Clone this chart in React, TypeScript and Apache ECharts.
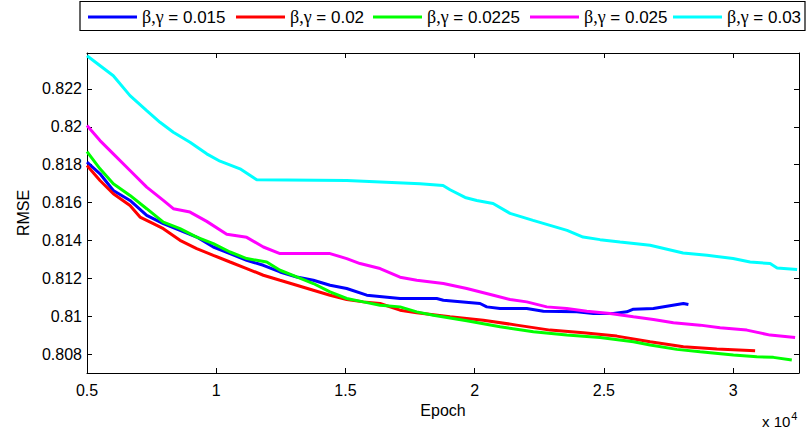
import React, { useEffect, useRef } from "react";
import * as echarts from "echarts";

const seriesNames = ["β,γ = 0.015", "β,γ = 0.02", "β,γ = 0.0225", "β,γ = 0.025", "β,γ = 0.03"];
const seriesColors = ["#0000ff", "#ff0000", "#00ff00", "#ff00ff", "#00ffff"];

const epochs015 = [5000, 5503, 6018, 6664, 7310, 7953, 8599, 9245, 9888, 10534, 11180, 11823, 12469, 13115, 13758, 14404, 15050, 15824, 17113, 18533, 18789, 20209, 20468, 20983, 22016, 22659, 23951, 24594, 25368, 25887, 26142, 26916, 27435, 28077, 28271];
const rmse015 = [0.818132, 0.817521, 0.816641, 0.816114, 0.815324, 0.814887, 0.814534, 0.81418, 0.813654, 0.813306, 0.812953, 0.812689, 0.812336, 0.812073, 0.811899, 0.811636, 0.811462, 0.811109, 0.810935, 0.810935, 0.810845, 0.810671, 0.810492, 0.810408, 0.810408, 0.810266, 0.810229, 0.810144, 0.810144, 0.810229, 0.810371, 0.810408, 0.810529, 0.810671, 0.810619];

const epochs02 = [5000, 5503, 6018, 6664, 7051, 7566, 7953, 8599, 9245, 9888, 10534, 11180, 11823, 12469, 13115, 13758, 14404, 15050, 15693, 16339, 17113, 17759, 19048, 20336, 21625, 22918, 24208, 25498, 26788, 28077, 29367, 30852];
const rmse02 = [0.817958, 0.817168, 0.816467, 0.815851, 0.815234, 0.814887, 0.814623, 0.814007, 0.813569, 0.813216, 0.812863, 0.812516, 0.812163, 0.811899, 0.811636, 0.811372, 0.811109, 0.810882, 0.810756, 0.810671, 0.810318, 0.810176, 0.809965, 0.809791, 0.809528, 0.809265, 0.809122, 0.808948, 0.808648, 0.808385, 0.808263, 0.808174];

const epochs0225 = [5000, 5503, 6018, 6664, 7310, 7953, 8599, 9245, 9888, 10534, 11180, 11954, 12469, 13115, 13758, 14404, 15050, 15693, 16339, 17113, 17759, 18402, 19694, 20983, 22272, 23564, 24853, 26142, 26788, 27821, 28723, 30012, 30917, 31559, 32271];
const rmse0225 = [0.818696, 0.817785, 0.816994, 0.816378, 0.815677, 0.814971, 0.814623, 0.81418, 0.813833, 0.81339, 0.813042, 0.812863, 0.812426, 0.812073, 0.811725, 0.811283, 0.810935, 0.810756, 0.810582, 0.810492, 0.810229, 0.810055, 0.809755, 0.809438, 0.809175, 0.809001, 0.80888, 0.808648, 0.808474, 0.808248, 0.808121, 0.807947, 0.807858, 0.807826, 0.807684];

const epochs025 = [5000, 5503, 6018, 6664, 7310, 7953, 8340, 8986, 9632, 10406, 11180, 11823, 12469, 14404, 15050, 15565, 16339, 17113, 17759, 18789, 19694, 20724, 21370, 22016, 22790, 23564, 24338, 25240, 26142, 26916, 27690, 28723, 29497, 30530, 31432, 32400];
const rmse025 = [0.820066, 0.819275, 0.818575, 0.817696, 0.816815, 0.816114, 0.815677, 0.815498, 0.815008, 0.814323, 0.814165, 0.813654, 0.813306, 0.813306, 0.813042, 0.812779, 0.812516, 0.812057, 0.811899, 0.811725, 0.811462, 0.811109, 0.810882, 0.810756, 0.810492, 0.810408, 0.810266, 0.810144, 0.809965, 0.809828, 0.809649, 0.809528, 0.809386, 0.809265, 0.809001, 0.80888];

const epochs03 = [5000, 6018, 6664, 7310, 7825, 8340, 8986, 9632, 10147, 10921, 11567, 15050, 17887, 18777, 19048, 19629, 20081, 20712, 21370, 22260, 22918, 23576, 24195, 24853, 25627, 26788, 28065, 28994, 30000, 30658, 31432, 31703, 32477];
const rmse03 = [0.823754, 0.8227, 0.821647, 0.820856, 0.82024, 0.819713, 0.819186, 0.818575, 0.818185, 0.817785, 0.817205, 0.817168, 0.816994, 0.816905, 0.816678, 0.816272, 0.816114, 0.815956, 0.815429, 0.81506, 0.814797, 0.814533, 0.81418, 0.814043, 0.813917, 0.813743, 0.813337, 0.813216, 0.813042, 0.812863, 0.812779, 0.812547, 0.812463];

const xTickLabels = ["0.5", "1", "1.5", "2", "2.5", "3"];
const yTickLabels = ["0.808", "0.81", "0.812", "0.814", "0.816", "0.818", "0.82", "0.822"];

const allEpochs = [epochs015, epochs02, epochs0225, epochs025, epochs03];
const allRmse = [rmse015, rmse02, rmse0225, rmse025, rmse03];
const legendLefts = [88, 236, 373, 530, 673];

const FONT = "'Liberation Sans', Arial, Helvetica, sans-serif";

export default function App() {
  const ref = useRef<HTMLDivElement>(null);
  useEffect(() => {
    if (!ref.current) return;
    const chart = echarts.init(ref.current, null, { renderer: "svg" });
    const xMin = 5000;
    const xMax = 32550;
    const yMin = 0.807;
    const yMax = 0.8239;
    const axisLine = { show: true, lineStyle: { color: "#000", width: 1 } };
    const tick = { show: true, inside: true, length: 5, lineStyle: { color: "#000", width: 1 } };
    const xFmt = (v: number) => {
      const s = String(parseFloat((v / 10000).toFixed(2)));
      return xTickLabels.includes(s) ? s : "";
    };
    const yFmt = (v: number) => {
      const s = String(parseFloat(v.toFixed(3)));
      return yTickLabels.includes(s) ? s : "";
    };
    const series = seriesNames.map((name, i) => ({
      name,
      type: "line",
      xAxisIndex: 0,
      yAxisIndex: 0,
      showSymbol: false,
      symbol: "none",
      color: seriesColors[i],
      lineStyle: { color: seriesColors[i], width: 3 },
      data: allEpochs[i].map((x, j) => [x, allRmse[i][j]]),
    }));
    const legends = seriesNames.map((name, i) => ({
      data: [name],
      left: legendLefts[i],
      top: 8,
      padding: 0,
      icon: "rect",
      itemWidth: 49,
      itemHeight: 3,
      selectedMode: false,
      formatter: (n: string) => n.replace("β,γ", "{g|β,γ}"),
      textStyle: {
        fontFamily: FONT,
        fontSize: 17,
        color: "#000",
        lineHeight: 17,
        rich: {
          g: { fontFamily: "'Liberation Serif', 'DejaVu Serif', serif", fontSize: 18, color: "#000" },
        },
      },
    }));
    chart.setOption({
      animation: false,
      backgroundColor: "#fff",
      grid: { left: 87, right: 7, top: 53, bottom: 56, containLabel: false },
      legend: legends,
      graphic: [
        {
          type: "rect",
          z: 0,
          silent: true,
          shape: { x: 80, y: 1.5, width: 725, height: 29 },
          style: { fill: "none", stroke: "#000", lineWidth: 1.2 },
        },
        {
          type: "text",
          left: 762,
          top: 410,
          silent: true,
          style: {
            text: "x 10{s|4}",
            fontFamily: FONT,
            fontSize: 15,
            fill: "#000",
            rich: { s: { fontSize: 11, verticalAlign: "top", padding: [0, 0, 12, 1], fontFamily: FONT } },
          },
        },
      ],
      xAxis: [
        {
          type: "value",
          position: "bottom",
          min: xMin,
          max: xMax,
          interval: 5000,
          name: "Epoch",
          nameLocation: "middle",
          nameGap: 29,
          nameTextStyle: { fontFamily: FONT, fontSize: 16, color: "#000" },
          axisLine,
          axisTick: tick,
          splitLine: { show: false },
          axisLabel: {
            formatter: xFmt,
            showMaxLabel: false,
            margin: 9,
            fontFamily: FONT,
            fontSize: 16,
            color: "#000",
          },
        },
        {
          type: "value",
          position: "top",
          min: xMin,
          max: xMax,
          interval: 5000,
          axisLine,
          axisTick: tick,
          splitLine: { show: false },
          axisLabel: { show: false },
        },
      ],
      yAxis: [
        {
          type: "value",
          position: "left",
          min: yMin,
          max: yMax,
          minInterval: 0.002,
          maxInterval: 0.002,
          splitNumber: 8,
          name: "RMSE",
          nameLocation: "middle",
          nameGap: 56,
          nameTextStyle: { fontFamily: FONT, fontSize: 16, color: "#000" },
          axisLine,
          axisTick: tick,
          splitLine: { show: false },
          axisLabel: {
            formatter: yFmt,
            showMinLabel: false,
            showMaxLabel: false,
            margin: 5,
            fontFamily: FONT,
            fontSize: 16,
            color: "#000",
          },
        },
        {
          type: "value",
          position: "right",
          min: yMin,
          max: yMax,
          minInterval: 0.002,
          maxInterval: 0.002,
          splitNumber: 8,
          axisLine,
          axisTick: tick,
          splitLine: { show: false },
          axisLabel: { show: false },
        },
      ],
      series,
    });
    return () => chart.dispose();
  }, []);
  return <div ref={ref} style={{ width: 806, height: 429, position: "absolute", left: 0, top: 0 }} />;
}
